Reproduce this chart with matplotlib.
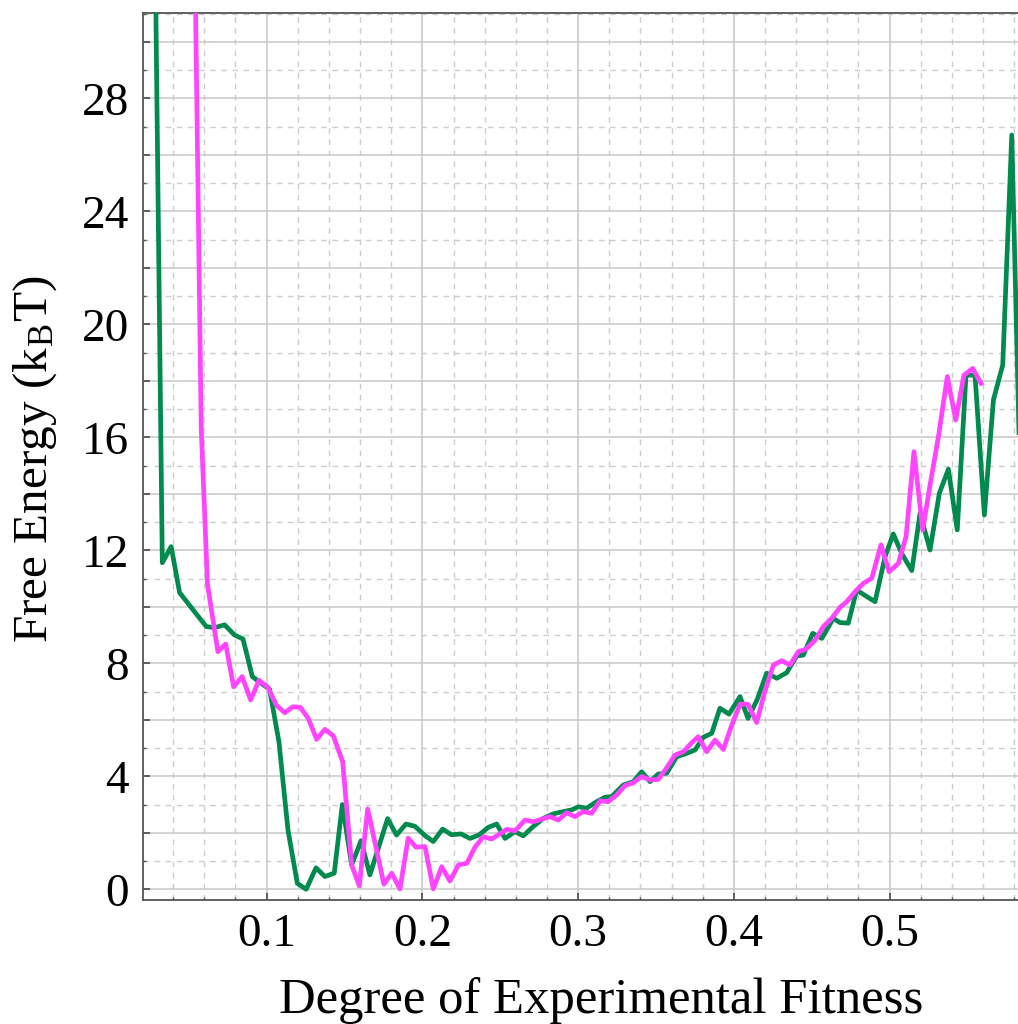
import numpy as np
import matplotlib.pyplot as plt
from matplotlib.ticker import MultipleLocator, FuncFormatter

plt.rcParams['font.family'] = ['Liberation Serif', 'DejaVu Serif']
plt.rcParams['mathtext.fontset'] = 'stix'

# free energy profiles along the fitness coordinate
fit_green = [0.027, 0.0330, 0.0387, 0.0441, 0.0612, 0.0666, 0.0730, 0.0794, 0.0848, 0.0908,
             0.0965, 0.1019, 0.1079, 0.1137, 0.1197, 0.1254, 0.1317, 0.1374, 0.1434, 0.1486,
             0.1546, 0.1606, 0.1663, 0.1777, 0.1834, 0.1895, 0.1952, 0.2017, 0.2070, 0.2130,
             0.2188, 0.2248, 0.2306, 0.2363, 0.2423, 0.2477, 0.2531, 0.2595, 0.2648, 0.2712,
             0.2777, 0.2841, 0.2905, 0.2959, 0.3001, 0.3055, 0.3119, 0.3173, 0.3216, 0.3290,
             0.3355, 0.3408, 0.3462, 0.3515, 0.3569, 0.3633, 0.3687, 0.3751, 0.3804, 0.3858,
             0.3911, 0.3969, 0.4040, 0.4091, 0.4149, 0.4211, 0.4276, 0.4340, 0.4404, 0.4446,
             0.4507, 0.4565, 0.4639, 0.4682, 0.4735, 0.4789, 0.4854, 0.4907, 0.4971, 0.5024,
             0.5078, 0.5143, 0.5196, 0.5260, 0.5320, 0.5378, 0.5435, 0.5491, 0.5549, 0.5609,
             0.5667, 0.5727, 0.5785, 0.5841]
fe_green = [39.9, 11.56, 12.13, 10.50, 9.30, 9.26, 9.36, 9.00, 8.86, 7.53,
            7.29, 7.08, 5.22, 2.10, 0.21, 0.0, 0.76, 0.45, 0.57, 3.0,
            0.86, 1.72, 0.51, 2.50, 1.92, 2.31, 2.23, 1.90, 1.69, 2.13,
            1.93, 1.96, 1.80, 1.92, 2.19, 2.31, 1.80, 2.04, 1.89, 2.22,
            2.51, 2.67, 2.75, 2.81, 2.92, 2.87, 3.10, 3.26, 3.28, 3.69,
            3.81, 4.16, 3.81, 4.08, 4.11, 4.69, 4.79, 4.93, 5.38, 5.52,
            6.41, 6.20, 6.82, 6.05, 6.70, 7.65, 7.47, 7.67, 8.26, 8.29,
            9.06, 8.88, 9.59, 9.44, 9.42, 10.59, 10.36, 10.18, 11.77, 12.58,
            11.89, 11.28, 13.31, 12.01, 14.02, 14.87, 12.72, 18.2, 18.2, 13.25,
            17.32, 18.56, 26.70, 14.0]

fit_pink = [0.0520, 0.0580, 0.0620, 0.0687, 0.0737, 0.0788, 0.0843, 0.0897, 0.0951, 0.1008,
            0.1062, 0.1116, 0.1169, 0.1216, 0.1267, 0.1321, 0.1374, 0.1428, 0.1488, 0.1546,
            0.1595, 0.1649, 0.1753, 0.1803, 0.1856, 0.1909, 0.1959, 0.2017, 0.2070, 0.2124,
            0.2177, 0.2231, 0.2285, 0.2338, 0.2391, 0.2445, 0.2498, 0.2541, 0.2595, 0.2659,
            0.2712, 0.2766, 0.2820, 0.2873, 0.2927, 0.2980, 0.3033, 0.3087, 0.3141, 0.3194,
            0.3248, 0.3301, 0.3355, 0.3408, 0.3462, 0.3515, 0.3569, 0.3622, 0.3676, 0.3730,
            0.3772, 0.3826, 0.3879, 0.3933, 0.3986, 0.4040, 0.4091, 0.4147, 0.4194, 0.4254,
            0.4308, 0.4361, 0.4414, 0.4464, 0.4522, 0.4575, 0.4629, 0.4682, 0.4725, 0.4778,
            0.4832, 0.4886, 0.4945, 0.4997, 0.5057, 0.5106, 0.5157, 0.5213, 0.5263, 0.5314,
            0.5371, 0.5425, 0.5478, 0.5534, 0.5588]
fe_pink = [40.8, 16.3, 10.8, 8.41, 8.68, 7.17, 7.53, 6.70, 7.40, 7.15,
           6.52, 6.25, 6.46, 6.44, 6.05, 5.31, 5.66, 5.43, 4.52, 0.86,
           0.12, 2.84, 0.18, 0.57, 0.01, 1.81, 1.49, 1.51, 0.01, 0.80,
           0.29, 0.86, 0.92, 1.49, 1.86, 1.78, 1.96, 2.12, 2.07, 2.45,
           2.39, 2.48, 2.57, 2.45, 2.71, 2.57, 2.75, 2.69, 3.13, 3.10,
           3.34, 3.67, 3.77, 3.99, 3.87, 3.89, 4.30, 4.75, 4.87, 5.19,
           5.40, 4.87, 5.28, 4.95, 5.80, 6.55, 6.55, 5.90, 6.90, 7.94,
           8.09, 7.94, 8.41, 8.50, 8.82, 9.30, 9.59, 9.98, 10.18, 10.53,
           10.83, 11.01, 12.19, 11.24, 11.54, 12.48, 15.49, 12.72, 14.4, 16.02,
           18.15, 16.61, 18.2, 18.44, 17.91]

fig = plt.figure(figsize=(10.18, 10.24), dpi=100)
ax = fig.add_axes([143/1018, 124/1024, 875/1018, 887/1024])

ax.plot(fit_green, fe_green, color='#008a4e', lw=3.4, zorder=3)
ax.plot(fit_pink, fe_pink, color='#ff45ff', lw=3.4, zorder=4)

ax.set_xlim(0.0206, 0.5825)
ax.set_ylim(-0.38, 31.02)

ax.xaxis.set_major_locator(MultipleLocator(0.1))
ax.xaxis.set_minor_locator(MultipleLocator(0.02))
ax.yaxis.set_major_locator(MultipleLocator(2))
ax.yaxis.set_minor_locator(MultipleLocator(1))
ax.xaxis.set_major_formatter(FuncFormatter(lambda v, p: '%.1f' % v))
ax.yaxis.set_major_formatter(FuncFormatter(lambda v, p: '%d' % round(v) if round(v) % 4 == 0 else ''))

ax.grid(which='major', color='#c8c8c8', lw=1.1, ls='-')
ax.grid(which='minor', color='#cccccc', lw=1.0, ls=(0, (4, 4)))
ax.set_axisbelow(True)

for side in ['left', 'bottom', 'top']:
    ax.spines[side].set_color('#555555')
    ax.spines[side].set_linewidth(1.3)
ax.spines['right'].set_visible(False)

ax.tick_params(which='both', direction='in', colors='#555555', labelcolor='black',
               labelsize=34, top=False, right=False)
ax.tick_params(which='major', length=5, width=1.3, pad=10)
ax.tick_params(which='minor', length=2.5, width=1.0)

ax.set_xlabel('Degree of Experimental Fitness', fontsize=36.5)
ax.xaxis.set_label_coords(0.524, -0.113)
ax.xaxis.label.set_va('center')
ax.set_ylabel(r'Free Energy (k$_\mathregular{B}$T)', fontsize=35.5)
ax.yaxis.set_label_coords(-0.123, 0.497)
ax.yaxis.label.set_va('center')

fig.savefig('out.png', dpi=100)
